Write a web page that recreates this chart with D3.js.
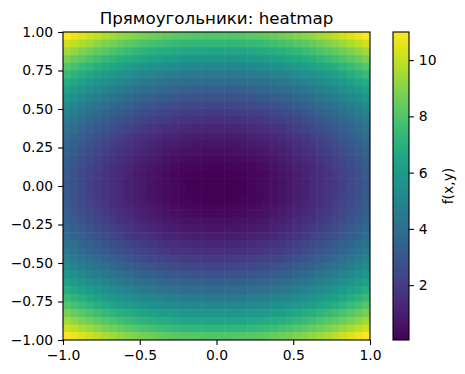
<!DOCTYPE html>
<html>
<head>
<meta charset="utf-8">
<script src="https://cdn.jsdelivr.net/npm/d3@7"></script>
<style>
  body { margin: 0; background: #fff; }
  svg { display: block; font-family: "DejaVu Sans", sans-serif; }
</style>
</head>
<body>
<svg id="chart" width="465" height="374"></svg>
<script>
// x part of f read along y = 0, left (x = -1) to right (x = 1), 40 columns
var xProfile = [3.00, 2.70, 2.42, 2.15, 1.90, 1.66, 1.44, 1.23, 1.04, 0.87,
                0.71, 0.57, 0.44, 0.33, 0.24, 0.16, 0.10, 0.05, 0.03, 0.02,
                0.02, 0.03, 0.05, 0.10, 0.16, 0.24, 0.33, 0.44, 0.57, 0.71,
                0.87, 1.04, 1.23, 1.44, 1.66, 1.90, 2.15, 2.42, 2.70, 3.00];
// y part of f read along x = 0, top (y = 1) to bottom (y = -1), 40 rows
var yProfile = [8.00, 7.20, 6.44, 5.73, 5.05, 4.42, 3.83, 3.29, 2.78, 2.32,
                1.90, 1.52, 1.18, 0.89, 0.64, 0.43, 0.26, 0.13, 0.06, 0.03,
                0.03, 0.06, 0.13, 0.26, 0.43, 0.64, 0.89, 1.18, 1.52, 1.90,
                2.32, 2.78, 3.29, 3.83, 4.42, 5.05, 5.73, 6.44, 7.20, 8.00];
var xTicks = [-1.0, -0.5, 0.0, 0.5, 1.0];
var yTicks = [-1.00, -0.75, -0.50, -0.25, 0.00, 0.25, 0.50, 0.75, 1.00];
var cbTicks = [2, 4, 6, 8, 10];
var title = "Прямоугольники: heatmap";
var cbLabel = "f(x,y)";

var svg = d3.select("#chart");
// plot box (window.top is reserved, so m* names)
var mLeft = 63, mRight = 370, mTop = 32, mBottom = 340;
var tickLen = 4.9, tickPad = 4.9, fs = 13.9;
var minus = function(s) { return s.replace("-", "\u2212"); };

var x = d3.scaleLinear().domain([-1, 1]).range([mLeft, mRight]);
var y = d3.scaleLinear().domain([-1, 1]).range([mBottom, mTop]);

// cell grid
var cells = [];
yProfile.forEach(function(hv, j) {
  xProfile.forEach(function(gv, i) {
    cells.push({i: i, j: j, v: gv + hv});
  });
});
var vmin = d3.min(cells, function(d) { return d.v; }),
    vmax = d3.max(cells, function(d) { return d.v; });
var color = d3.scaleSequential(d3.interpolateViridis).domain([vmin, vmax]);

var nx = xProfile.length, ny = yProfile.length;
var cw = 2 / nx, ch = 2 / ny;

svg.append("g")
  .selectAll("rect")
  .data(cells)
  .enter().append("rect")
  .attr("x", function(d) { return x(-1 + d.i * cw); })
  .attr("y", function(d) { return y(1 - d.j * ch); })
  .attr("width", function(d) { return d.i == nx - 1 ? x(cw) - x(0) : x(cw) - x(0) + 0.6; })
  .attr("height", function(d) { return d.j == ny - 1 ? y(0) - y(ch) : y(0) - y(ch) + 0.6; })
  .attr("fill", function(d) { return color(d.v); });

// axes
var xAxis = d3.axisBottom(x).tickValues(xTicks).tickSizeOuter(0).tickSize(tickLen).tickPadding(tickPad)
  .tickFormat(function(d) { return minus(d3.format(".1f")(d)); });
var yAxis = d3.axisLeft(y).tickValues(yTicks).tickSizeOuter(0).tickSize(tickLen).tickPadding(tickPad)
  .tickFormat(function(d) { return minus(d3.format(".2f")(d)); });

var gx = svg.append("g").attr("transform", "translate(0," + mBottom + ")").call(xAxis);
var gy = svg.append("g").attr("transform", "translate(" + mLeft + ",0)").call(yAxis);
[gx, gy].forEach(function(g) {
  g.select(".domain").remove();
  g.selectAll("text").attr("font-size", fs).attr("fill", "#000").attr("font-family", "DejaVu Sans");
  g.selectAll("line").attr("stroke", "#000").attr("stroke-width", 1.1);
});

svg.append("rect")
  .attr("x", mLeft).attr("y", mTop)
  .attr("width", mRight - mLeft).attr("height", mBottom - mTop)
  .attr("fill", "none").attr("stroke", "#000").attr("stroke-width", 1.1);

svg.append("text")
  .attr("x", (mLeft + mRight) / 2).attr("y", 24)
  .attr("text-anchor", "middle").attr("font-size", 16.7)
  .text(title);

// colorbar
var cbL = 393, cbW = 16;
var cb = d3.scaleLinear().domain([vmin, vmax]).range([mBottom, mTop]);
var grad = svg.append("defs").append("linearGradient")
  .attr("id", "cbgrad").attr("x1", 0).attr("y1", 1).attr("x2", 0).attr("y2", 0);
d3.range(0, 1.0001, 0.05).forEach(function(t) {
  grad.append("stop").attr("offset", t).attr("stop-color", d3.interpolateViridis(t));
});
svg.append("rect")
  .attr("x", cbL).attr("y", mTop).attr("width", cbW).attr("height", mBottom - mTop)
  .attr("fill", "url(#cbgrad)").attr("stroke", "#000").attr("stroke-width", 1.1);

var cbAxis = d3.axisRight(cb).tickValues(cbTicks).tickSize(tickLen).tickPadding(tickPad).tickSizeOuter(0);
var gcb = svg.append("g").attr("transform", "translate(" + (cbL + cbW) + ",0)").call(cbAxis);
gcb.select(".domain").remove();
gcb.selectAll("text").attr("font-size", fs).attr("fill", "#000").attr("font-family", "DejaVu Sans");
gcb.selectAll("line").attr("stroke", "#000").attr("stroke-width", 1.1);

svg.append("text")
  .attr("transform", "translate(453," + ((mTop + mBottom) / 2) + ") rotate(-90)")
  .attr("text-anchor", "middle").attr("font-size", fs)
  .text(cbLabel);
</script>
</body>
</html>
